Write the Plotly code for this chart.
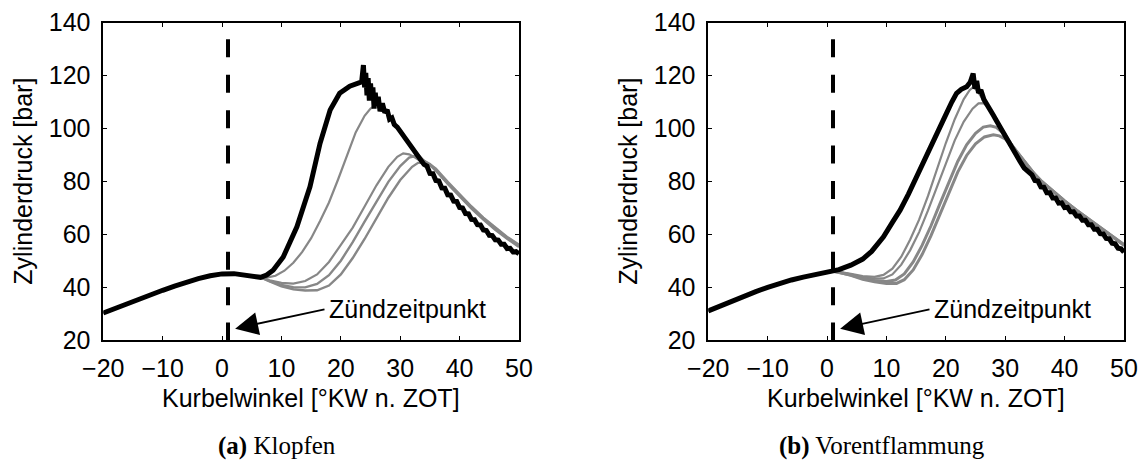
import plotly.graph_objects as go

# ---------------- data ----------------
# (a) Klopfen
comp_x_a = [-20, -18, -16, -14, -12, -10, -8, -6, -4, -2, 0, 2, 4, 6]
comp_y_a = [30.2, 32.0, 33.7, 35.4, 37.1, 38.8, 40.4, 41.9, 43.2, 44.3, 45.0, 45.1, 44.6, 43.8]

black_a_x = [6.5, 7.5, 8.6, 10.3, 12.6, 14.8, 16.5, 18.2, 19.8, 21.5, 23.0, 23.5, 23.8, 24.0, 24.2, 24.4,
             24.6, 24.8, 25.0, 25.2, 25.4, 25.6, 25.8, 26.0, 26.3, 26.6, 27.0, 27.4, 27.8, 28.2, 28.6,
             29.0, 29.5, 30.0, 30.5, 31.0, 31.5, 32.0, 32.5, 33.0, 33.5, 34.0, 34.5, 35.0, 35.5, 36.0,
             36.5, 37.0, 37.5, 38.0, 38.5, 39.0, 39.5, 40.0, 40.5, 41.0, 41.5, 42.0, 42.5, 43.0, 43.5,
             44.0, 44.5, 45.0, 45.5, 46.0, 46.5, 47.0, 47.5, 48.0, 48.5, 49.0, 49.5, 50.0]
black_a_y = [43.7, 44.6, 46.4, 51.4, 62.8, 77.9, 94.4, 107.0, 113.3, 116.0, 117.0, 117.6, 124.0, 115.5,
             121.0, 112.5, 119.0, 110.5, 117.0, 111.0, 115.5, 107.5, 113.5, 109.0, 112.0, 106.5, 109.5,
             106.0, 107.0, 103.5, 104.0, 101.5, 100.5, 99.0, 97.0, 96.0, 94.0, 92.6, 91.0, 89.6, 87.8,
             86.4, 85.8, 83.0, 82.9, 80.3, 80.1, 77.5, 77.4, 74.9, 74.8, 72.5, 72.4, 70.1, 69.9, 67.8,
             67.7, 65.6, 65.5, 63.6, 63.5, 61.6, 61.4, 59.6, 59.5, 57.9, 57.8, 56.2, 56.2, 54.6, 54.7,
             53.3, 53.4, 52.6]

grey_a1_x = [6.5, 7.5, 9, 10.5, 12, 13.5, 15, 16.5, 18, 19.5, 21, 22.5, 24, 25, 26, 27, 28, 29, 30, 31, 32,
             33, 34, 35, 36, 38, 40, 42, 44, 46, 48, 50]
grey_a1_y = [43.7, 43.6, 44.3, 46.2, 49.2, 53.3, 58.5, 65.0, 72.0, 80.5, 89.5, 98.5, 104.8, 107.5, 109.0,
             108.3, 105.5, 102.3, 99.2, 96.0, 93.0, 90.2, 87.8, 86.6, 84.5, 79.5, 74.7, 70.2, 66.0, 62.2,
             58.8, 55.8]
grey_a2_x = [6.5, 8, 10, 12, 14, 16, 18, 20, 22, 24, 26, 28, 29.5, 30.5, 31.5, 32.5, 33.5, 35, 36, 38, 40,
             42, 44, 46, 48, 50]
grey_a2_y = [43.7, 42.6, 41.6, 41.3, 42.3, 44.8, 49.5, 56.0, 62.5, 70.5, 78.5, 85.5, 89.3, 90.6, 90.2,
             89.0, 87.5, 86.3, 84.2, 79.2, 74.4, 69.9, 65.7, 61.9, 58.5, 55.4]
grey_a3_x = [6.5, 8, 10, 12, 14, 16, 18, 20, 22, 24, 26, 28, 30, 31.5, 32.5, 33.5, 35, 36, 38, 40, 42, 44,
             46, 48, 50]
grey_a3_y = [43.7, 42.3, 40.8, 40.0, 39.9, 41.2, 44.5, 50.0, 57.0, 64.8, 72.5, 79.8, 85.8, 89.0, 89.6,
             88.6, 86.2, 84.0, 79.0, 74.2, 69.7, 65.5, 61.7, 58.3, 55.2]
grey_a4_x = [6.5, 8, 10, 12, 14, 16, 18, 20, 22, 24, 26, 28, 30, 32, 33, 34, 35, 36, 38, 40, 42, 44, 46,
             48, 50]
grey_a4_y = [43.7, 42.2, 40.3, 39.2, 38.7, 38.8, 40.6, 44.8, 51.0, 58.2, 66.0, 73.8, 80.5, 85.5, 87.0,
             87.0, 86.4, 84.8, 79.8, 75.0, 70.5, 66.3, 62.5, 59.0, 56.0]

# (b) Vorentflammung
comp_x_b = [-20, -18, -16, -14, -12, -10, -8, -6, -4, -2, 0, 1]
comp_y_b = [31.0, 32.9, 34.7, 36.5, 38.3, 39.9, 41.4, 42.7, 43.8, 44.8, 45.6, 46.0]

black_b_x = [1, 2, 4, 6, 7.5, 9.5, 11, 12.3, 13.7, 15.1, 16.5, 17.9, 19, 20.1, 21, 21.8, 22.6, 23.5, 24.1,
             24.6, 24.9, 25.2, 25.5, 25.9, 26.4, 27, 27.5, 28, 28.5, 29.1, 29.6, 30.2, 30.8, 31.4, 31.9,
             32.5, 33.2, 34.0, 34.5, 35.0, 35.5, 36.0, 36.5, 37.0, 37.5, 38.0, 38.5, 39.0, 39.5, 40.0,
             40.5, 41.0, 41.5, 42.0, 42.5, 43.0, 43.5, 44.0, 44.5, 45.0, 45.5, 46.0, 46.5, 47.0, 47.5,
             48.0, 48.5, 49.0, 49.5, 50.0]
black_b_y = [46.0, 46.6, 48.3, 50.6, 53.5, 59.0, 64.5, 69.1, 75.2, 81.7, 88.0, 94.4, 99.8, 105.7, 110.0,
             113.3, 114.8, 115.8, 117.5, 120.8, 115.0, 118.0, 113.5, 114.5, 111.0, 109.0, 107.5, 105.0,
             103.0, 100.6, 98.5, 96.0, 93.8, 91.0, 89.3, 87.5, 85.0, 83.2, 82.5, 80.3, 80.1, 77.9, 77.8,
             75.7, 75.7, 73.7, 73.7, 71.8, 71.9, 70.1, 70.2, 68.5, 68.5, 66.9, 66.9, 65.3, 65.3, 63.6,
             63.6, 61.9, 61.9, 60.2, 60.1, 58.4, 58.3, 56.6, 56.4, 54.7, 54.5, 53.2]

grey_b1_x = [1, 2, 4, 6, 8, 9.5, 11, 12.5, 14, 15.5, 17, 18.5, 20, 21.5, 23, 24, 24.6, 25.2, 26, 27, 28,
             29, 30, 31, 32, 33, 34, 35, 36, 38, 40, 42, 44, 46, 48, 50]
grey_b1_y = [46.0, 45.8, 45.0, 44.2, 43.9, 44.6, 47.0, 51.5, 58.0, 65.5, 74.5, 84.5, 94.5, 103.5, 111.0,
             114.5, 115.6, 114.5, 111.8, 108.8, 105.5, 101.8, 97.5, 94.0, 90.8, 87.7, 84.9, 82.3, 80.0,
             76.0, 72.3, 68.8, 65.5, 62.3, 59.0, 55.6]
grey_b2_x = [1, 2, 4, 6, 8, 9.5, 11, 12.5, 14, 15.5, 17, 18.5, 20, 21.5, 23, 24.5, 25.5, 26.3, 27, 28,
             29, 30, 31, 32, 33, 34, 35, 36, 38, 40, 42, 44, 46, 48, 50]
grey_b2_y = [46.0, 45.7, 44.8, 43.8, 43.2, 43.3, 44.8, 48.5, 54.0, 60.8, 69.0, 78.0, 87.0, 95.5, 102.5,
             107.5, 109.5, 109.6, 108.5, 105.0, 101.5, 97.6, 94.0, 90.9, 87.9, 85.1, 82.5, 80.2, 76.2,
             72.5, 69.0, 65.7, 62.5, 59.2, 55.8]
grey_b3_x = [1, 2, 4, 6, 8, 10, 11.5, 13, 14.5, 16, 17.5, 19, 20.5, 22, 23.5, 25, 26.3, 27.5, 28.5, 29.5,
             30.5, 31.5, 32.5, 33.5, 34.5, 36, 38, 40, 42, 44, 46, 48, 50]
grey_b3_y = [46.0, 45.6, 44.6, 43.3, 42.5, 42.1, 42.7, 45.0, 49.5, 55.8, 63.2, 71.5, 79.8, 87.5, 93.8,
             98.2, 100.5, 101.0, 100.4, 98.5, 95.5, 92.5, 89.5, 86.6, 83.9, 80.3, 76.3, 72.6, 69.1, 65.8,
             62.6, 59.3, 56.0]
grey_b4_x = [1, 2, 4, 6, 8, 10, 11.7, 13, 14.5, 16, 17.5, 19, 20.5, 22, 23.5, 25, 26.5, 28, 29, 30, 31,
             32, 33, 34, 35, 36, 38, 40, 42, 44, 46, 48, 50]
grey_b4_y = [46.0, 45.6, 44.5, 43.0, 42.0, 41.4, 41.4, 42.8, 46.5, 52.3, 59.5, 67.5, 75.7, 83.5, 89.8,
             94.2, 96.8, 97.6, 97.2, 96.0, 93.8, 91.0, 88.1, 85.3, 82.6, 80.3, 76.3, 72.6, 69.1, 65.8,
             62.6, 59.3, 56.1]

ignition_x = 1.0           # Zündzeitpunkt [°KW n. ZOT]
dash_y = [133.7, 20.0]
x_ticks = [-20, -10, 0, 10, 20, 30, 40, 50]
y_ticks = [20, 40, 60, 80, 100, 120, 140]
x_title = "Kurbelwinkel [°KW n. ZOT]"
y_title = "Zylinderdruck [bar]"
captions = ["<b>(a)</b> Klopfen", "<b>(b)</b> Vorentflammung"]
label = "Zündzeitpunkt"

# ---------------- figure ----------------
W, H = 1141, 465
GREY = "#878787"
FONT = "Liberation Sans, Arial, sans-serif"

fig = go.Figure()


def add_panel(xa, ya, comp_x, comp_y, greys, black):
    for (gx, gy), w in greys:
        fig.add_trace(go.Scatter(x=comp_x + gx, y=comp_y + gy, mode="lines",
                                 line=dict(color=GREY, width=w), xaxis=xa, yaxis=ya,
                                 showlegend=False, hoverinfo="skip"))
    bx, by = black
    fig.add_trace(go.Scatter(x=comp_x + bx, y=comp_y + by, mode="lines",
                             line=dict(color="black", width=5), xaxis=xa, yaxis=ya,
                             showlegend=False, hoverinfo="skip"))
    fig.add_trace(go.Scatter(x=[ignition_x, ignition_x], y=dash_y, mode="lines",
                             line=dict(color="black", width=4, dash="18px,17.4px"),
                             xaxis=xa, yaxis=ya, showlegend=False, hoverinfo="skip"))


add_panel("x", "y", comp_x_a, comp_y_a,
          [((grey_a1_x, grey_a1_y), 2.2), ((grey_a2_x, grey_a2_y), 2.2),
           ((grey_a3_x, grey_a3_y), 2.4), ((grey_a4_x, grey_a4_y), 2.4)],
          (black_a_x, black_a_y))
add_panel("x2", "y2", comp_x_b, comp_y_b,
          [((grey_b1_x, grey_b1_y), 2.2), ((grey_b2_x, grey_b2_y), 2.2),
           ((grey_b3_x, grey_b3_y), 3.0), ((grey_b4_x, grey_b4_y), 3.0)],
          (black_b_x, black_b_y))

ydom = [(H - 340) / H, (H - 22.7) / H]
xdom1 = [103.3 / W, 519 / W]
xdom2 = [708.3 / W, 1124 / W]

axcommon = dict(showgrid=False, zeroline=False, showline=True, linecolor="black", linewidth=1.6,
                mirror="ticks", ticks="inside", ticklen=4, tickwidth=1.3, tickcolor="black",
                automargin=False,
                tickfont=dict(family=FONT, size=25, color="black"))
xcommon = dict(axcommon, range=[-20, 50], tickvals=x_ticks, ticklabelstandoff=5)
ycommon = dict(axcommon, range=[20, 140], tickvals=y_ticks, ticklabelstandoff=6)

fig.update_layout(
    width=W, height=H, margin=dict(l=0, r=0, t=0, b=0, autoexpand=False),
    paper_bgcolor="white", plot_bgcolor="white", showlegend=False,
    xaxis=dict(xcommon, domain=xdom1, anchor="y"),
    yaxis=dict(ycommon, domain=ydom, anchor="x"),
    xaxis2=dict(xcommon, domain=xdom2, anchor="y2"),
    yaxis2=dict(ycommon, domain=ydom, anchor="x2"),
)

ann = []
for i, (xd, xr, yr) in enumerate([(xdom1, "x", "y"), (xdom2, "x2", "y2")]):
    cx = (xd[0] + xd[1]) / 2
    ann.append(dict(text=x_title, xref="paper", yref="paper", x=cx, y=(H - 398) / H,
                    xanchor="center", yanchor="middle", showarrow=False,
                    font=dict(family=FONT, size=25, color="black")))
    ann.append(dict(text=y_title, xref="paper", yref="paper", x=(xd[0] * W - 80) / W,
                    y=(ydom[0] + ydom[1]) / 2, xanchor="center", yanchor="middle",
                    textangle=-90, showarrow=False,
                    font=dict(family=FONT, size=25, color="black")))
    ann.append(dict(text=captions[i], xref="paper", yref="paper", x=(cx * W - 34) / W,
                    y=(H - 446) / H, xanchor="center", yanchor="middle", showarrow=False,
                    font=dict(family="Liberation Serif, Times New Roman, serif", size=25,
                              color="black")))
    ann.append(dict(text=label, xref=xr, yref=yr, x=17.6, y=31.8, xanchor="left",
                    yanchor="middle", showarrow=False,
                    font=dict(family=FONT, size=25, color="black")))
    ann.append(dict(text="", xref=xr, yref=yr, x=2.2, y=24.3, axref=xr, ayref=yr,
                    ax=17.5, ay=31.7, showarrow=True, arrowhead=2, arrowsize=2.3,
                    arrowwidth=2, arrowcolor="black", standoff=0, startstandoff=0,
                    font=dict(size=2)))
fig.update_layout(annotations=ann)

fig.write_html("out.html")
